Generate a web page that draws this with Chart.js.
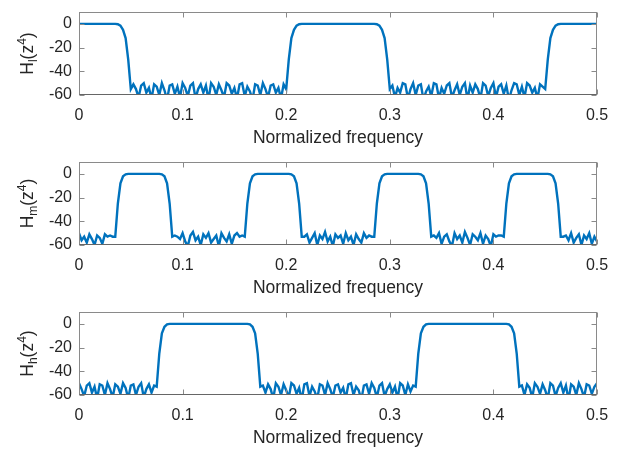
<!DOCTYPE html>
<html>
<head>
<meta charset="utf-8">
<title>H(z^4) magnitude responses</title>
<script src="https://cdn.jsdelivr.net/npm/chart.js@4.4.1/dist/chart.umd.min.js"></script>
<style>
  body { margin: 0; background: #fff; }
  canvas { position: absolute; left: 0; }
</style>
</head>
<body>
<canvas id="chart-low" width="619" height="150" style="top:0"></canvas>
<canvas id="chart-mid" width="619" height="150" style="top:150px"></canvas>
<canvas id="chart-high" width="619" height="150" style="top:300px"></canvas>
<script>
// --- DATA (dB, sampled every 0.0025 of normalized frequency) ---
const FREQ_STEP = 0.0025;
const xTicks = [0, 0.1, 0.2, 0.3, 0.4, 0.5];
const yTicks = [-60, -40, -20, 0];

const lowGain = [
    0, 0, 0, 0, 0, 0, 0, 0, 0, 0, 0, 0, 0, 0, 0,
    -0.3, -1.5, -5, -12, -30, -55,
    -51, -55, -62, -52, -50, -58, -54, -63, -51, -53,
    -60, -50, -56, -64, -52, -51, -59, -53, -62, -50,
    -54, -61, -52, -50, -63, -55, -51, -58, -52, -64,
    -50, -53, -60, -51, -56, -62, -50, -52, -59, -54,
    -63, -51, -50, -61, -53, -57, -64, -51, -52, -60,
    -50, -55, -62, -52, -51, -58, -54, -63, -51,
    -55, -30, -12, -5, -1.5, -0.3,
    0, 0, 0, 0, 0, 0, 0, 0, 0, 0, 0, 0, 0, 0, 0, 0, 0, 0, 0, 0, 0, 0, 0, 0, 0, 0, 0, 0, 0,
    -0.3, -1.5, -5, -12, -30, -55,
    -52, -62, -54, -58, -50, -51, -63, -55, -50, -60,
    -52, -51, -64, -57, -53, -61, -50, -51, -63, -54,
    -59, -52, -50, -62, -56, -51, -60, -53, -50, -64,
    -52, -58, -51, -55, -63, -50, -52, -61, -54, -50,
    -62, -53, -51, -59, -52, -64, -56, -50, -51, -60,
    -53, -62, -50, -52, -58, -54, -63, -51, -53,
    -55, -30, -12, -5, -1.5, -0.3,
    0, 0, 0, 0, 0, 0, 0, 0, 0, 0, 0, 0, 0, 0, 0
];

const midGain = [
    -50, -56, -53, -58, -51, -55, -60, -52, -54, -59, -51, -53, -52, -53,
    -53, -25, -8, -2, -0.4,
    0, 0, 0, 0, 0, 0, 0, 0, 0, 0, 0, 0, 0,
    -0.4, -2, -8, -25, -53,
    -52, -53, -55, -50, -57, -61, -52, -49, -56, -53, -60, -51, -54, -50,
    -58, -55, -52, -61, -50, -54, -57, -51, -59, -52, -50, -53, -52,
    -53, -25, -8, -2, -0.4,
    0, 0, 0, 0, 0, 0, 0, 0, 0, 0, 0, 0, 0,
    -0.4, -2, -8, -25, -53,
    -53, -51, -58, -54, -50, -60, -52, -55, -49, -57, -53, -61, -51, -54,
    -52, -59, -50, -56, -53, -60, -51, -55, -58, -50, -54, -52, -53,
    -53, -25, -8, -2, -0.4,
    0, 0, 0, 0, 0, 0, 0, 0, 0, 0, 0, 0, 0,
    -0.4, -2, -8, -25, -53,
    -52, -54, -50, -59, -53, -51, -57, -61, -50, -55, -52, -58, -49, -54,
    -60, -51, -53, -56, -50, -59, -52, -55, -61, -51, -53, -52, -52,
    -53, -25, -8, -2, -0.4,
    0, 0, 0, 0, 0, 0, 0, 0, 0, 0, 0, 0, 0,
    -0.4, -2, -8, -25, -53,
    -53, -52, -56, -50, -58, -54, -51, -60, -52, -55, -50, -59, -53, -57
];

const highGain = [
    -50, -55, -61, -52, -50, -58, -53, -63, -51, -52,
    -60, -50, -55, -62, -51, -53, -59, -50, -54, -63,
    -52, -51, -60, -53, -50, -62, -55, -51, -58, -52,
    -53, -25, -8, -2.5, -0.5,
    0, 0, 0, 0, 0, 0, 0, 0, 0, 0, 0, 0, 0, 0, 0, 0, 0, 0, 0, 0, 0, 0, 0, 0, 0, 0, 0, 0, 0, 0, 0,
    -0.5, -2.5, -8, -25, -53,
    -52, -58, -51, -55, -63, -50, -53, -60, -51, -56,
    -62, -50, -52, -59, -54, -64, -51, -50, -61, -53,
    -57, -63, -51, -52, -60, -50, -55, -62, -52, -51,
    -58, -54, -63, -51, -50, -60, -53, -56, -64, -52,
    -51, -59, -50, -54, -62, -52, -50, -61, -55, -51,
    -58, -53, -63, -50, -52, -60, -51, -57, -52,
    -53, -25, -8, -2.5, -0.5,
    0, 0, 0, 0, 0, 0, 0, 0, 0, 0, 0, 0, 0, 0, 0, 0, 0, 0, 0, 0, 0, 0, 0, 0, 0, 0, 0, 0, 0, 0, 0,
    -0.5, -2.5, -8, -25, -53,
    -52, -60, -51, -54, -62, -50, -53, -59, -51, -56,
    -63, -50, -52, -61, -54, -50, -58, -52, -64, -51,
    -53, -60, -50, -55, -62, -51, -52, -59, -53, -50
];

const freq = lowGain.map((_, i) => +(i * FREQ_STEP).toFixed(4));

// --- STYLE ---
const FONT = '"Liberation Sans", Arial, Helvetica, sans-serif';
const TEXT_COLOR = '#262626';
const LINE_COLOR = '#0072BD';
const BOX_COLOR = '#8a8a8a';

// --- PLUGINS ---
// MATLAB-style box with inward ticks on all four sides
const axesBox = {
    id: 'axesBox',
    afterDatasetsDraw(chart) {
        const { ctx, chartArea: a, scales: { x, y } } = chart;
        const l = Math.round(a.left) + 0.5, r = Math.round(a.right) - 0.5;
        const t = Math.round(a.top) + 0.5, b = Math.round(a.bottom) - 0.5;
        ctx.save();
        ctx.strokeStyle = BOX_COLOR;
        ctx.lineWidth = 1;
        ctx.strokeRect(l, t, r - l, b - t);
        ctx.beginPath();
        xTicks.forEach(v => {
            const px = Math.round(x.getPixelForValue(v)) + 0.5;
            ctx.moveTo(px, b); ctx.lineTo(px, b - 5);
            ctx.moveTo(px, t); ctx.lineTo(px, t + 5);
        });
        yTicks.forEach(v => {
            const py = Math.round(y.getPixelForValue(v)) + 0.5;
            ctx.moveTo(l, py); ctx.lineTo(l + 5, py);
            ctx.moveTo(r, py); ctx.lineTo(r - 5, py);
        });
        ctx.stroke();
        ctx.strokeStyle = '#666';
        ctx.beginPath();
        ctx.moveTo(l, b); ctx.lineTo(r, b);
        ctx.stroke();
        ctx.restore();
    }
};

// rotated y label with subscript and superscript: H_x(z^4)
const yLabel = {
    id: 'yLabel',
    afterDraw(chart, args, opts) {
        const { ctx, chartArea: a } = chart;
        const big = '17.5px ' + FONT, small = '12px ' + FONT;
        const parts = [['H', big, 0], [opts.sub, small, 4], ['(z', big, 0], ['4', small, -7], [')', big, 0]];
        let total = 0;
        parts.forEach(([text, font]) => { ctx.font = font; total += ctx.measureText(text).width; });
        ctx.save();
        ctx.translate(33, (a.top + a.bottom) / 2);
        ctx.rotate(-Math.PI / 2);
        ctx.fillStyle = TEXT_COLOR;
        ctx.textBaseline = 'alphabetic';
        let cx = -total / 2;
        parts.forEach(([text, font, dy]) => {
            ctx.font = font;
            ctx.fillText(text, cx, dy);
            cx += ctx.measureText(text).width;
        });
        ctx.restore();
    }
};

// --- CHARTS ---
const makeChart = (canvasId, gain, sub) => new Chart(document.getElementById(canvasId), {
    type: 'line',
    data: {
        datasets: [{
            data: gain.map((g, i) => ({ x: freq[i], y: g })),
            borderColor: LINE_COLOR,
            borderWidth: 2.4,
            pointRadius: 0,
            tension: 0,
            clip: 0
        }]
    },
    options: {
        responsive: false,
        animation: false,
        layout: { padding: { top: 12, right: 22, left: 0, bottom: 0 } },
        plugins: {
            legend: { display: false },
            tooltip: { enabled: false },
            yLabel: { sub }
        },
        scales: {
            x: {
                type: 'linear',
                min: 0,
                max: 0.5,
                afterBuildTicks: s => { s.ticks = xTicks.map(v => ({ value: v })); },
                afterFit: s => { s.height = 55; s.paddingLeft = 0; s.paddingRight = 0; },
                grid: { display: false, drawTicks: false },
                border: { display: false },
                ticks: {
                    padding: 11,
                    maxRotation: 0,
                    color: TEXT_COLOR,
                    font: { family: FONT, size: 16 },
                    callback: v => String(v)
                },
                title: {
                    display: true,
                    text: 'Normalized frequency',
                    color: TEXT_COLOR,
                    font: { family: FONT, size: 17.5 },
                    padding: { top: 2, bottom: 1 }
                }
            },
            y: {
                min: -60,
                max: 10,
                afterBuildTicks: s => { s.ticks = yTicks.map(v => ({ value: v })); },
                afterFit: s => { s.width = 79; s.paddingTop = 0; s.paddingBottom = 0; },
                grid: { display: false, drawTicks: false },
                border: { display: false },
                ticks: {
                    padding: 7,
                    color: TEXT_COLOR,
                    font: { family: FONT, size: 16 },
                    callback: v => String(v)
                }
            }
        }
    },
    plugins: [axesBox, yLabel]
});

makeChart('chart-low', lowGain, 'l');
makeChart('chart-mid', midGain, 'm');
makeChart('chart-high', highGain, 'h');
</script>
</body>
</html>
